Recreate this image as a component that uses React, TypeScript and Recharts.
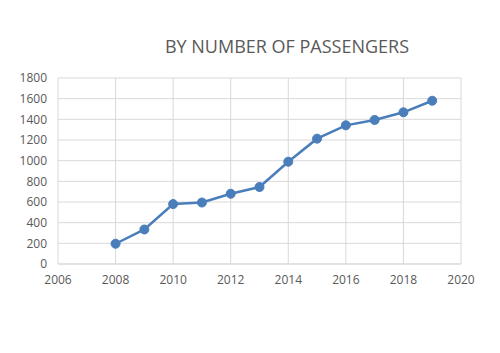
import {LineChart, Line, XAxis, YAxis, CartesianGrid} from "recharts";

const years = [2008, 2009, 2010, 2011, 2012, 2013, 2014, 2015, 2016, 2017, 2018, 2019];
const passengers = [196, 334, 580, 595, 680, 745, 990, 1213, 1342, 1394, 1468, 1580];
const xTicks = [2006, 2008, 2010, 2012, 2014, 2016, 2018, 2020];
const yTicks = [0, 200, 400, 600, 800, 1000, 1200, 1400, 1600, 1800];
const title = "BY NUMBER OF PASSENGERS";

const data = years.map((year, i) => ({year, value: passengers[i]}));

const axisText = {fill: "#595959", fontSize: 12, fontFamily: "'Open Sans', sans-serif"};

export default function App() {
  return (
    <div style={{position: "absolute", left: 0, top: 0, width: 500, height: 353, background: "#fff"}}>
      <div
        style={{
          position: "absolute",
          left: 0,
          width: 500,
          paddingLeft: 74,
          boxSizing: "border-box",
          top: 34,
          textAlign: "center",
          fontFamily: "'Open Sans', sans-serif",
          fontSize: 18,
          color: "#595959",
          lineHeight: "24px",
        }}
      >
        {title}
      </div>
      <LineChart width={500} height={353} data={data} margin={{top: 78, right: 39, bottom: 59, left: 0}}>
        <CartesianGrid stroke="#d9d9d9" strokeWidth={1} />
        <XAxis
          dataKey="year"
          type="number"
          domain={[2006, 2020]}
          ticks={xTicks}
          interval={0}
          height={30}
          stroke="#d9d9d9"
          tickLine={false}
          tickSize={0}
          tickMargin={11}
          tick={axisText}
        />
        <YAxis
          type="number"
          domain={[0, 1800]}
          ticks={yTicks}
          interval={0}
          width={58}
          axisLine={false}
          tickLine={false}
          tickSize={0}
          tickMargin={11}
          tick={axisText}
        />
        <Line
          type="linear"
          dataKey="value"
          stroke="#4a7ebb"
          strokeWidth={2.5}
          dot={{r: 4.5, fill: "#4a7ebb", stroke: "#4a7ebb", strokeWidth: 1}}
          isAnimationActive={false}
        />
      </LineChart>
    </div>
  );
}
